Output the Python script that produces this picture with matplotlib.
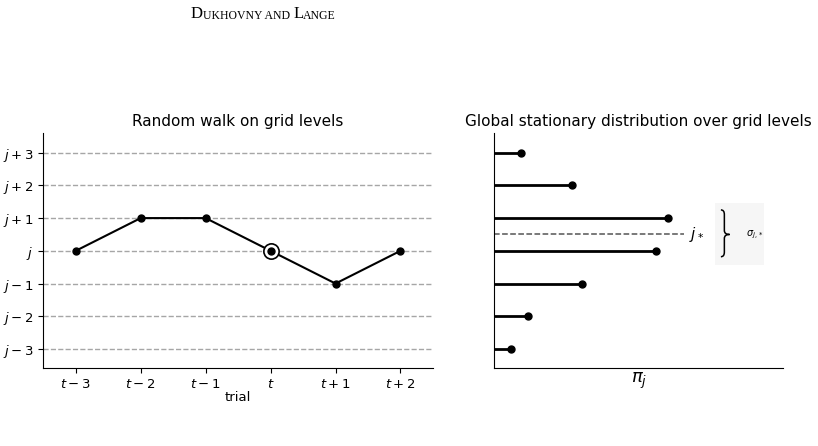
import matplotlib
matplotlib.use("Agg")
import matplotlib.pyplot as plt
import matplotlib.patches as mpatches
from matplotlib.path import Path
from matplotlib.text import Annotation

# random walk
trial_offsets = [-3, -2, -1, 0, 1, 2]
walk_levels = [0, 1, 1, 0, -1, 0]
current_idx = 3
trial_labels = ['$t-3$', '$t-2$', '$t-1$', '$t$', '$t+1$', '$t+2$']

# stationary distribution
grid_levels = [3, 2, 1, 0, -1, -2, -3]
pi_values = [0.046, 0.134, 0.300, 0.280, 0.152, 0.058, 0.029]
level_labels = ['$j+3$', '$j+2$', '$j+1$', '$j$', '$j-1$', '$j-2$', '$j-3$']
j_star = 0.5

fig = plt.figure(figsize=(8.18, 4.46), dpi=100)

# page header (small caps)
ann = fig.text(0.2335, 0.96, 'D', fontsize=12, family='Liberation Serif', va='baseline')
for txt, size in [('UKHOVNY AND ', 8.5), ('L', 12), ('ANGE', 8.5)]:
    ann = fig.add_artist(Annotation(txt, xy=(1, 0), xycoords=ann, va='bottom', ha='left',
                                    fontsize=size, family='Liberation Serif'))

# left: random walk
ax1 = fig.add_axes([0.0529, 0.1749, 0.4764, 0.5269])
for lv in grid_levels:
    ax1.axhline(lv, color='gray', lw=1, ls='--', alpha=0.7, zorder=1)
ax1.plot(trial_offsets, walk_levels, color='black', lw=1.5, marker='o', ms=5, zorder=3)
ax1.plot(trial_offsets[current_idx], walk_levels[current_idx], 'o', ms=11,
         mfc='white', mec='black', mew=1.2, zorder=4)
ax1.plot(trial_offsets[current_idx], walk_levels[current_idx], 'o', ms=5,
         color='black', zorder=5)
ax1.set_xlim(-3.5, 2.5)
ax1.set_ylim(-3.58, 3.6)
ax1.set_xticks(trial_offsets)
ax1.set_xticklabels(trial_labels, fontsize=9.5)
ax1.set_yticks(grid_levels)
ax1.set_yticklabels(level_labels, fontsize=9.5)
ax1.set_xlabel('trial', fontsize=9.5, labelpad=0)
ax1.set_title('Random walk on grid levels', fontsize=11, pad=5)
ax1.spines['top'].set_visible(False)
ax1.spines['right'].set_visible(False)

# right: stationary distribution
ax2 = fig.add_axes([0.6043, 0.1749, 0.3533, 0.5269])
ax2.hlines(grid_levels, 0, pi_values, color='black', lw=2)
ax2.plot(pi_values, grid_levels, 'o', color='black', ms=5)
ax2.plot([0, 0.328], [j_star, j_star], color='#555555', lw=1.1, ls='--')
ax2.text(0.337, j_star, '$j_*$', fontsize=11, va='center', ha='left')
ax2.add_patch(mpatches.Rectangle((0.382, -0.43), 0.085, 1.9, facecolor='#f6f6f6',
                                 edgecolor='none', zorder=0))

# curly brace around the spread
top, bot = 1.25, -0.18
xa, xm, xt = 0.392, 0.398, 0.407
verts = [(xa, top), (xm, top), (xm, top - 0.14),
         (xm, j_star + 0.12),
         (xm, j_star), (xt, j_star),
         (xm, j_star), (xm, j_star - 0.12),
         (xm, bot + 0.14),
         (xm, bot), (xa, bot)]
codes = [Path.MOVETO, Path.CURVE3, Path.CURVE3,
         Path.LINETO,
         Path.CURVE3, Path.CURVE3,
         Path.CURVE3, Path.CURVE3,
         Path.LINETO,
         Path.CURVE3, Path.CURVE3]
ax2.add_patch(mpatches.PathPatch(Path(verts, codes), facecolor='none',
                                 edgecolor='black', lw=1.1))
ax2.text(0.435, j_star, r'$\sigma_{j,*}$', fontsize=7, va='center', ha='left')
ax2.set_xlim(0, 0.5)
ax2.set_ylim(-3.58, 3.6)
ax2.set_xticks([])
ax2.set_yticks([])
ax2.set_xlabel(r'$\pi_j$', fontsize=13, labelpad=2)
ax2.set_title('Global stationary distribution over grid levels', fontsize=11, pad=5)
ax2.spines['top'].set_visible(False)
ax2.spines['right'].set_visible(False)

fig.savefig('out.png', dpi=100)
